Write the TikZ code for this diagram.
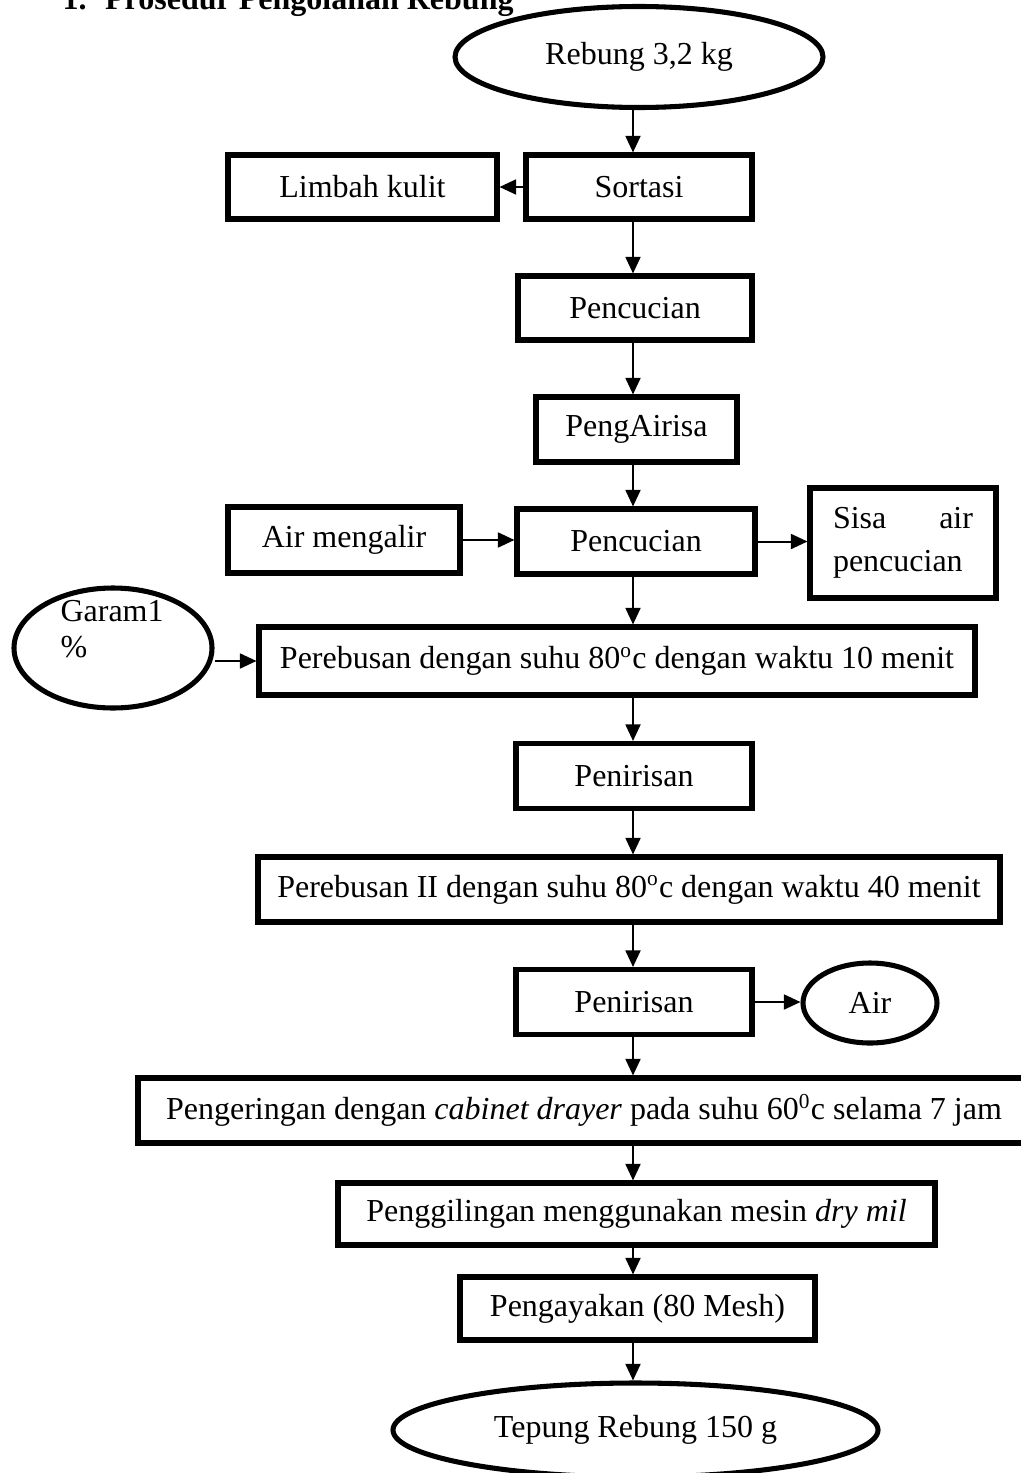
\documentclass[tikz,border=0pt]{standalone}
\usepackage{fontspec}
\setmainfont{Liberation Serif}
\usetikzlibrary{shapes.geometric,arrows.meta}
\tikzset{
  huruf/.style={font=\fontsize{12}{14}\selectfont},
  proses/.style={draw, line width=1.9pt, inner sep=0pt, huruf},
  bulat/.style={ellipse, draw, line width=1.9pt, inner sep=0pt, huruf},
  ukuran/.style 2 args={minimum width=#1*0.375pt, minimum height=#2*0.375pt},
  panah/.style={-{Triangle[length=6.2pt,width=5.6pt]}},
}
\begin{document}
\begin{tikzpicture}[x=0.375pt, y=-0.375pt]
    \useasboundingbox (0,0) rectangle (1021,1473);
    \coordinate (kolom) at (633,0);
    \node[anchor=base west, inner sep=0pt, font=\fontsize{12}{14}\selectfont\bfseries] (judul) at (62,9.5) {1.\hskip 7pt Prosedur Pengolahan Rebung};
    \node[bulat, ukuran={368}{101}] (rebung) at (639,57) {Rebung 3,2 kg};
    \node[proses, ukuran={226}{64}] (sortasi) at (639,187) {Sortasi};
    \node[proses, ukuran={269}{64}] (limbah) at (362.5,187) {Limbah kulit};
    \node[proses, ukuran={234}{64}] (cuci1) at (635,308) {Pencucian};
    \node[proses, ukuran={201}{65}] (iris) at (636.5,429.5) {PengAirisa};
    \node[proses, ukuran={232}{66}] (mengalir) at (344,540) {Air mengalir};
    \node[proses, ukuran={238}{65}] (cuci2) at (636,541.5) {Pencucian};
    \node[proses, ukuran={186}{110}, text width=52.5pt, align=left,
          font=\fontsize{12}{16}\selectfont] (sisa) at (903,543) {Sisa\hfill air\\pencucian};
    \node[bulat, ukuran={198}{120}] (garam) at (113,648) {};
    \node[anchor=west, align=left, inner sep=0pt, font=\fontsize{12}{13.5}\selectfont] (garamteks) at (60,629) {Garam1\\\%};
    \node[proses, ukuran={716}{68}] (rebus1) at (617,661) {Perebusan dengan suhu 80\textsuperscript{o}c dengan waktu 10 menit};
    \node[proses, ukuran={236}{65}] (tiris1) at (634,776) {Penirisan};
    \node[proses, ukuran={742}{65}] (rebus2) at (629,889.5) {Perebusan II dengan suhu 80\textsuperscript{o}c dengan waktu 40 menit};
    \node[proses, ukuran={236}{65}] (tiris2) at (634,1002) {Penirisan};
    \node[bulat, ukuran={134}{80}] (airout) at (870,1003) {Air};
    \node[proses, ukuran={892}{65}] (kering) at (584,1110.5) {Pengeringan dengan \textit{cabinet drayer} pada suhu 60\textsuperscript{0}c selama 7 jam};
    \node[proses, ukuran={597}{62}] (giling) at (636.5,1214) {Penggilingan menggunakan mesin \textit{dry mil}};
    \node[proses, ukuran={355}{63}] (ayak) at (637.5,1308.5) {Pengayakan (80 Mesh)};
    \node[bulat, ukuran={485}{94}] (tepung) at (635.5,1430) {Tepung Rebung 150 g};
    \draw[-, line width=0.75pt]
    (rebung.south -| kolom) edge[panah] (sortasi.north -| kolom)
    (sortasi.west) edge[panah] (limbah.east)
    (sortasi.south -| kolom) edge[panah] (cuci1.north -| kolom)
    (cuci1.south -| kolom) edge[panah] (iris.north -| kolom)
    (iris.south -| kolom) edge[panah] (cuci2.north -| kolom)
    (mengalir.east) edge[panah] (cuci2.west |- mengalir.east)
    (cuci2.east) edge[panah] (sisa.west |- cuci2.east)
    (cuci2.south -| kolom) edge[panah] (rebus1.north -| kolom)
    (garam.east |- rebus1.west) edge[panah] (rebus1.west)
    (rebus1.south -| kolom) edge[panah] (tiris1.north -| kolom)
    (tiris1.south -| kolom) edge[panah] (rebus2.north -| kolom)
    (rebus2.south -| kolom) edge[panah] (tiris2.north -| kolom)
    (tiris2.east) edge[panah] (airout.west |- tiris2.east)
    (tiris2.south -| kolom) edge[panah] (kering.north -| kolom)
    (kering.south -| kolom) edge[panah] (giling.north -| kolom)
    (giling.south -| kolom) edge[panah] (ayak.north -| kolom)
    (ayak.south -| kolom) edge[panah] (tepung.north -| kolom);
\end{tikzpicture}
\end{document}
